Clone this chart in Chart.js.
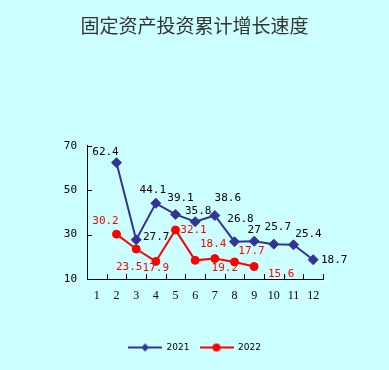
<!DOCTYPE html>
<html>
<head>
<meta charset="utf-8">
<script src="https://cdn.jsdelivr.net/npm/chart.js@4"></script>
<style>
  html, body { margin: 0; padding: 0; background: #ccffff; }
  #wrap { width: 389px; height: 370px; }
</style>
</head>
<body>
<div id="wrap"><canvas id="growthChart" width="389" height="370"></canvas></div>
<script>
"use strict";
// data
const months = ['1', '2', '3', '4', '5', '6', '7', '8', '9', '10', '11', '12'];
const values2021 = [null, 62.4, 27.7, 44.1, 39.1, 35.8, 38.6, 26.8, 27, 25.7, 25.4, 18.7];
const values2022 = [null, 30.2, 23.5, 17.9, 32.1, 18.4, 19.2, 17.7, 15.6, null, null, null];
const yTicks = [10, 30, 50, 70];

// where each value label sits relative to its point (px)
const offsets2021 = [null, [-11, -11], [20, -3], [-3, -13], [5, -16], [3, -11], [13, -17], [6, -23], [0, -11], [4, -17], [15, -11], [21, 0]];
const offsets2022 = [null, [-11, -13], [-7, 18], [0, 7], [18, 0], [18, -16], [10, 10], [17, -11], [27, 8]];

function legendIcon(color, style) {
    const c = document.createElement('canvas');
    c.width = 34; c.height = 10;
    const g = c.getContext('2d');
    g.strokeStyle = color; g.fillStyle = color; g.lineWidth = 2;
    g.beginPath(); g.moveTo(0, 5); g.lineTo(34, 5); g.stroke();
    g.beginPath();
    if (style === 'diamond') {
        g.moveTo(17, 1); g.lineTo(21, 5); g.lineTo(17, 9); g.lineTo(13, 5);
    } else {
        g.arc(17, 5, 4, 0, Math.PI * 2);
    }
    g.closePath(); g.fill();
    return c;
}

const insideTicks = {
    id: 'insideTicks',
    afterDraw(chart) {
        const ctx = chart.ctx;
        const x = chart.scales.x, y = chart.scales.y;
        ctx.save();
        ctx.strokeStyle = '#000';
        ctx.lineWidth = 1;
        ctx.beginPath();
        for (let i = 0; i < months.length; i++) {
            const px = Math.round(x.getPixelForValue(i) + x.width / months.length / 2) + 0.5;
            ctx.moveTo(px, y.bottom); ctx.lineTo(px, y.bottom - 5);
        }
        yTicks.forEach(v => {
            if (v === y.min) return;
            const py = Math.round(y.getPixelForValue(v)) + 0.5;
            ctx.moveTo(x.left, py); ctx.lineTo(x.left + 5, py);
        });
        ctx.stroke();
        ctx.restore();
    }
};

const valueLabels = {
    id: 'valueLabels',
    afterDatasetsDraw(chart) {
        const ctx = chart.ctx;
        ctx.save();
        ctx.font = '11px "DejaVu Sans Mono"';
        ctx.textAlign = 'center';
        ctx.textBaseline = 'middle';
        chart.data.datasets.forEach((ds, di) => {
            const meta = chart.getDatasetMeta(di);
            const offs = di === 0 ? offsets2021 : offsets2022;
            ctx.fillStyle = di === 0 ? '#000' : '#ff0000';
            meta.data.forEach((pt, i) => {
                const v = ds.data[i];
                if (v === null || !offs[i]) return;
                ctx.fillText(String(v), pt.x + offs[i][0], pt.y + offs[i][1]);
            });
        });
        ctx.restore();
    }
};

const ctx = document.getElementById('growthChart').getContext('2d');
new Chart(ctx, {
    type: 'line',
    data: {
        labels: months,
        datasets: [{
            label: '2021',
            data: values2021,
            borderColor: '#333399',
            backgroundColor: '#333399',
            borderWidth: 2,
            pointStyle: 'rectRot',
            pointRadius: 5,
            pointBorderWidth: 1,
            tension: 0
        }, {
            label: '2022',
            data: values2022,
            borderColor: '#ff0000',
            backgroundColor: '#ff0000',
            borderWidth: 2,
            pointStyle: 'circle',
            pointRadius: 4,
            pointBorderWidth: 1,
            tension: 0
        }]
    },
    options: {
        responsive: false,
        animation: false,
        events: [],
        layout: { padding: { left: 0, right: 0, top: 0, bottom: 8 } },
        scales: {
            x: {
                offset: true,
                grid: { display: false, drawTicks: false, offset: true },
                border: { display: true, color: '#000', width: 1 },
                ticks: { color: '#000', font: { family: 'Liberation Serif', size: 12 }, padding: 10, maxRotation: 0, autoSkip: false },
                afterFit: s => { s.height = 54; }
            },
            y: {
                min: 10,
                max: 70,
                afterBuildTicks: s => { s.ticks = yTicks.map(v => ({ value: v })); },
                grid: { display: false, drawTicks: false },
                border: { display: true, color: '#000', width: 1 },
                ticks: { color: '#000', font: { family: 'DejaVu Sans Mono', size: 11 }, padding: 10 },
                afterFit: s => { s.width = 87; }
            },
            // empty strip on the right so title and legend stay centred on the page
            spacer: {
                type: 'linear',
                position: 'right',
                display: true,
                grid: { display: false, drawTicks: false },
                border: { display: false },
                ticks: { display: false },
                afterFit: s => { s.width = 66; }
            }
        },
        plugins: {
            title: {
                display: true,
                text: '固定资产投资累计增长速度',
                color: '#333',
                font: { family: 'Noto Sans CJK SC', size: 19, weight: 'normal' },
                padding: { top: 14, bottom: 109 }
            },
            legend: {
                position: 'bottom',
                labels: {
                    usePointStyle: true,
                    pointStyleWidth: 34,
                    color: '#000',
                    font: { family: 'DejaVu Sans', size: 9 },
                    padding: 10,
                    generateLabels: chart => chart.data.datasets.map((ds, i) => ({
                        text: ds.label,
                        pointStyle: legendIcon(ds.borderColor, i === 0 ? 'diamond' : 'circle'),
                        fontColor: '#000',
                        datasetIndex: i
                    }))
                }
            },
            tooltip: { enabled: false }
        }
    },
    plugins: [insideTicks, valueLabels]
});
</script>
</body>
</html>
